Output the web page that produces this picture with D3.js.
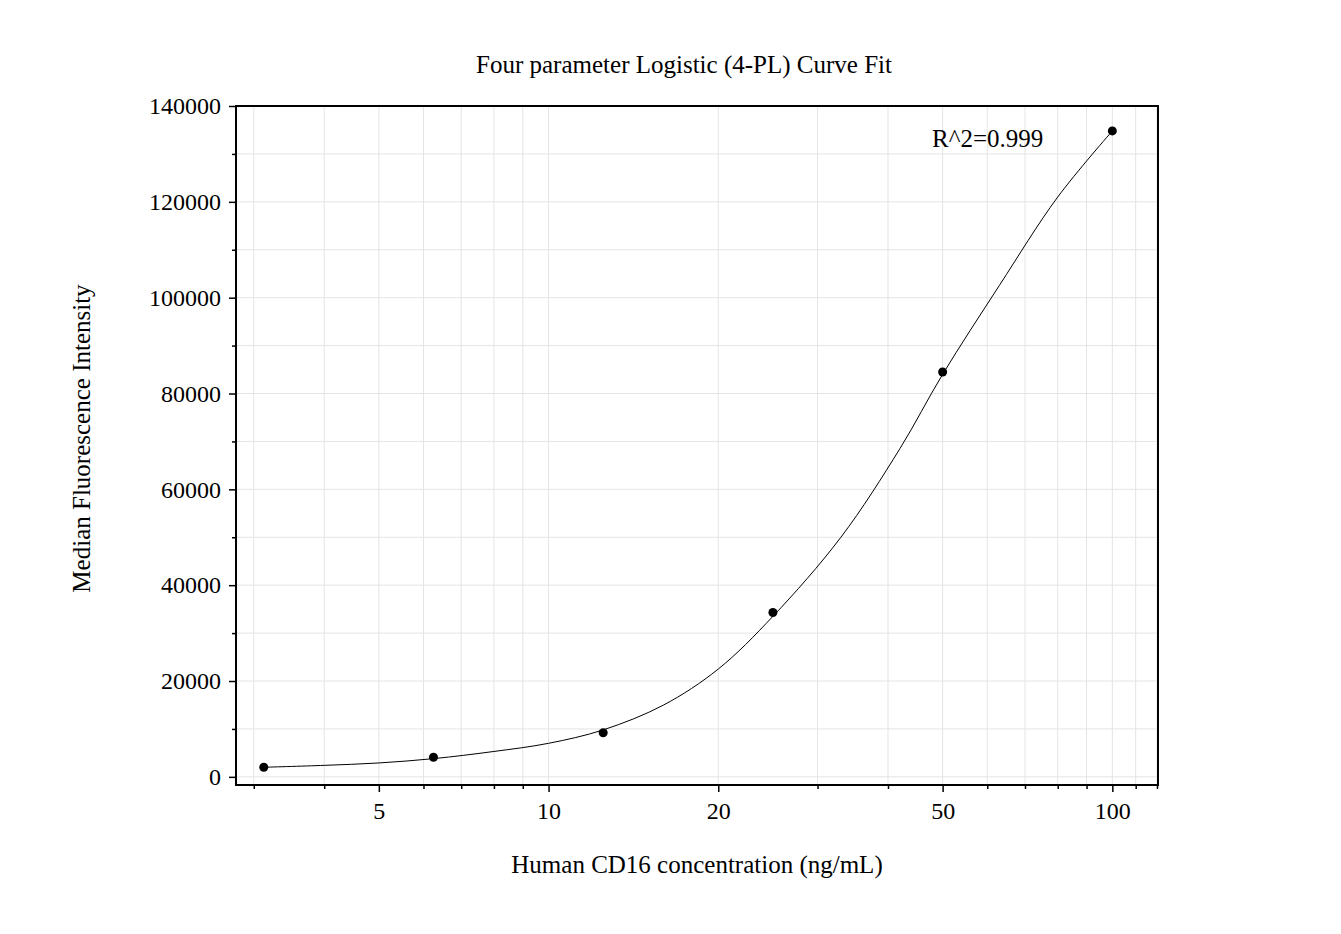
<!DOCTYPE html>
<html><head><meta charset="utf-8">
<script src="https://cdn.jsdelivr.net/npm/d3@7"></script>
<style>body{margin:0;background:#fff}text{font-family:"Liberation Serif","Times New Roman",serif}</style>
</head><body>
<svg id="chart" width="1341" height="934"></svg>
<script>
// DATA
var conc = [3.125, 6.25, 12.5, 25, 50, 100];
var mfi = [2000, 4100, 9200, 34300, 84500, 134800];
// fitted curve
var curveX = [3.125, 4, 5, 6.25, 8, 10, 12.5, 16, 20, 25, 33, 42, 50, 63, 80, 100];
var curveY = [2000, 2400, 2900, 3800, 5300, 7000, 9800, 15000, 22500, 33500, 50000, 68500, 84000, 102500, 121000, 134800];
var xTicks = [5, 10, 20, 50, 100];
var yTicks = [0, 20000, 40000, 60000, 80000, 100000, 120000, 140000];

const margin = {top: 106, right: 183, bottom: 149, left: 236},
    width = 1341 - margin.left - margin.right,
    height = 934 - margin.top - margin.bottom;

var svg = d3.select("#chart").append("g")
    .attr("transform", `translate(${margin.left}, ${margin.top})`);

const x = d3.scaleLog().domain([2.79, 120.5]).range([0, width]);
const y = d3.scaleLinear().domain([-1700, 140000]).range([height, 0]);

// grid
var minorX = [];
for (let d = 1; d <= 100; d *= 10)
    for (let k = 1; k < 10; k++) { let v = d * k; if (v >= 3 && v <= 120) minorX.push(v); }
minorX.push(110); minorX.push(120);
minorX = minorX.filter(v => v <= 120);
var minorY = d3.range(0, 140001, 10000);

svg.append("g").selectAll("line").data(minorX).enter().append("line")
    .attr("x1", d => x(d)).attr("x2", d => x(d)).attr("y1", 0).attr("y2", height)
    .attr("stroke", "#e4e4e4");
svg.append("g").selectAll("line").data(minorY).enter().append("line")
    .attr("x1", 0).attr("x2", width).attr("y1", d => y(d)).attr("y2", d => y(d))
    .attr("stroke", "#e4e4e4");

// axes
var xa = svg.append("g").attr("transform", `translate(0, ${height})`)
    .call(d3.axisBottom(x).tickValues(xTicks).tickFormat(d3.format("d")).tickSize(7).tickPadding(10));
var xm = svg.append("g").attr("transform", `translate(0, ${height})`)
    .call(d3.axisBottom(x).tickValues(minorX.filter(v => xTicks.indexOf(v) < 0)).tickFormat("").tickSize(4));
var ya = svg.append("g")
    .call(d3.axisLeft(y).tickValues(yTicks).tickFormat(d3.format("d")).tickSize(7).tickPadding(8));
var ym = svg.append("g")
    .call(d3.axisLeft(y).tickValues(minorY.filter(v => yTicks.indexOf(v) < 0)).tickFormat("").tickSize(4));
[xa, xm, ya, ym].forEach(function(a) {
    a.attr("font-size", 24).attr("font-family", '"Liberation Serif", serif');
    a.select(".domain").remove();
    a.selectAll("line").attr("stroke", "#000").attr("stroke-width", 1.5);
    a.selectAll("text").attr("fill", "#000");
});

svg.append("rect").attr("width", width).attr("height", height)
    .attr("fill", "none").attr("stroke", "#000").attr("stroke-width", 2);

// curve
var cdata = curveX.map((v, i) => ({x: v, y: curveY[i]}));
svg.append("path").datum(cdata)
    .attr("fill", "none").attr("stroke", "#000").attr("stroke-width", 1)
    .attr("d", d3.line().curve(d3.curveCatmullRom.alpha(0.5))
        .x(d => x(d.x)).y(d => y(d.y)));

svg.append("g").selectAll("circle").data(conc).enter().append("circle")
    .attr("cx", d => x(d)).attr("cy", (d, i) => y(mfi[i])).attr("r", 4.5).attr("fill", "#000");

// text
svg.append("text").attr("x", 684 - margin.left).attr("y", -33)
    .attr("text-anchor", "middle").attr("font-size", 25).text("Four parameter Logistic (4-PL) Curve Fit");
svg.append("text").attr("x", 696).attr("y", 41)
    .attr("font-size", 25).text("R^2=0.999");
svg.append("text").attr("x", 697 - margin.left).attr("y", height + 88)
    .attr("text-anchor", "middle").attr("font-size", 25).text("Human CD16 concentration (ng/mL)");
svg.append("text").attr("transform", `translate(-146, ${height / 2 - 7}) rotate(-90)`)
    .attr("text-anchor", "middle").attr("font-size", 25).text("Median Fluorescence Intensity");
</script>
</body></html>
